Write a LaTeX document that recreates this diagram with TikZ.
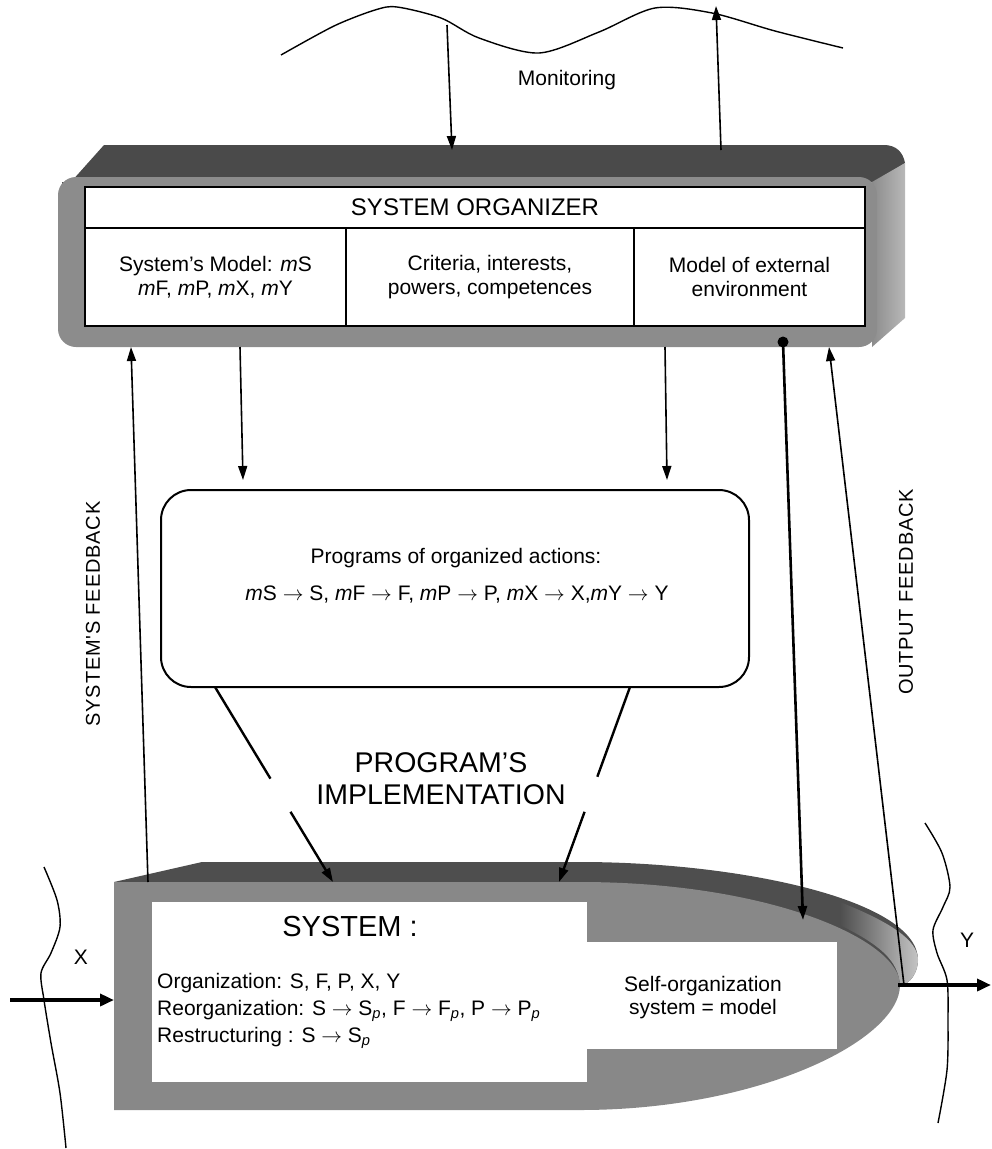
\documentclass[tikz,border=0pt]{standalone}
\usepackage{fontspec}
\setmainfont{Liberation Sans}
\newfontfamily\spacedfont[LetterSpace=4]{Liberation Sans}
\usetikzlibrary{arrows.meta,calc}
\definecolor{orgtop}{HTML}{4A4A4A}
\definecolor{orgfront}{HTML}{8C8C8C}
\definecolor{orgside}{HTML}{B8B8B8}
\definecolor{bodytop}{HTML}{4E4E4E}
\definecolor{bodyfront}{HTML}{888888}
\definecolor{rimlight}{HTML}{C4C4C4}
\newcommand{\sra}{$\rightarrow$}
\newcommand{\subp}{\textsubscript{\textit{p}}}
\begin{document}
\begin{tikzpicture}[x=1pt,y=-1pt,
  txt/.style={inner sep=0pt, font=\fontsize{21}{24}\selectfont},
  cell/.style={draw, line width=2pt, fill=white, inner sep=0pt, align=center, font=\fontsize{21}{24}\selectfont},
  whitebox/.style={fill=white, inner sep=0pt, anchor=north west},
  conn/.style={line width=1.6pt},
  thickconn/.style={line width=2.4pt},
  tip/.style={-{Triangle[length=14pt,width=9pt]}},
  vlabel/.style={rotate=90, inner sep=0pt, font=\spacedfont\fontsize{20}{24}\selectfont}
]
\useasboundingbox (0,0) rectangle (992,1149);

% ---------------- top wave and monitoring ----------------
\draw[line width=1.4pt] plot[smooth] coordinates {(281,55) (334,26) (375,10) (397,7) (441,18) (479,38) (539,53) (599,32) (655,8) (712,13) (775,31) (843,48)};
\node[txt] (mon) at (567,80) {Monitoring};

% ---------------- system organizer (3D box) ----------------
\fill[orgtop] (62,192) -- (104,145) -- (884,145) .. controls (896,145) and (903,152) .. (905,163) -- (877,182) -- (62,182) -- cycle;
\shade[left color=orgfront, right color=orgside] (872,182) -- (905,163) -- (905,318) -- (872,347) -- cycle;
\fill[orgfront, rounded corners=18pt] (58,177) rectangle (877,347);

\node[cell, minimum width=780pt, minimum height=41pt, font=\fontsize{24}{28}\selectfont] (hdr) at (475,207.5) {SYSTEM ORGANIZER};
\node[cell, minimum width=261pt, minimum height=98pt] (c1) at (215.5,277) {System's Model: \textit{m}S\\\textit{m}F, \textit{m}P, \textit{m}X, \textit{m}Y};
\node[cell, minimum width=288pt, minimum height=98pt] (c2) at (490,277) {Criteria, interests,\\powers, competences};
\node[cell, minimum width=231pt, minimum height=98pt] (c3) at (749.5,277) {Model of external\\environment};

% ---------------- system body (3D shape) ----------------
\fill[bodytop] (114,882) -- (202,862) -- (580,862) .. controls (740,862) and (918,900) .. (918,960) .. controls (918,972) and (910,985) .. (900,985) -- (114,985) -- cycle;
\shade[left color=bodytop, right color=rimlight] (840,902) .. controls (890,922) and (918,940) .. (918,960) .. controls (918,972) and (910,985) .. (900,985) .. controls (898,960) and (880,945) .. (840,925) -- cycle;
\fill[bodyfront] (114,882) -- (580,882) .. controls (770,882) and (900,940) .. (900,985) .. controls (900,1040) and (760,1110) .. (580,1110) -- (114,1110) -- cycle;

\node[whitebox, minimum width=435pt, minimum height=180pt] (sysbox) at (152,902) {};
\node[whitebox, minimum width=252pt, minimum height=107pt] (selfbox) at (585,942) {};

\node[inner sep=0pt, font=\fontsize{29}{33}\selectfont] (systitle) at (350,927) {SYSTEM :};
\node[txt, anchor=base west] (org1) at (157,988) {Organization: S, F, P, X, Y};
\node[txt, anchor=base west] (org2) at (157,1015) {Reorganization: S \sra{} S\subp, F \sra{} F\subp, P \sra{} P\subp};
\node[txt, anchor=base west] (org3) at (157,1042) {Restructuring : S \sra{} S\subp};
\node[txt, align=center, font=\fontsize{21}{23}\selectfont] (selft) at (703,998) {Self-organization\\system = model};

% ---------------- program box ----------------
\node[draw, line width=2pt, rounded corners=30pt, minimum width=588pt, minimum height=197pt, inner sep=0pt] (prog) at (455,588.5) {};
\node[txt] (prog1) at (456,558) {Programs of organized actions:};
\node[txt] (prog2) at (457,595) {\textit{m}S \sra{} S, \textit{m}F \sra{} F, \textit{m}P \sra{} P, \textit{m}X \sra{} X,\textit{m}Y \sra{} Y};

\node[align=center, inner sep=0pt, font=\fontsize{28.5}{32}\selectfont] (impl) at (441,779) {PROGRAM'S\\IMPLEMENTATION};

% ---------------- labels ----------------
\node[vlabel] (sfb) at (93,614) {SYSTEM'S FEEDBACK};
\node[vlabel] (ofb) at (906,592) {OUTPUT FEEDBACK};
\node[txt] (xlab) at (81,957) {X};
\node[txt] (ylab) at (967,940) {Y};

% ---------------- coordinates ----------------
\coordinate (w1) at (447,25);
\coordinate (oT1) at (452,150);
\coordinate (oT2) at (721,150);
\coordinate (w2) at (716,6);
\coordinate (oB1) at (131,347);
\coordinate (oB2) at (240,347);
\coordinate (oB3) at (665,347);
\coordinate (oB4) at (783,342);
\coordinate (oB5) at (829,347);
\coordinate (pT1) at (243,480);
\coordinate (pT2) at (667,480);
\coordinate (pB1) at (215,687);
\coordinate (pB2) at (630,687);
\coordinate (sT0) at (148,882);
\coordinate (sT1) at (333,882);
\coordinate (sT2) at (559,882);
\coordinate (sM) at (803,920);
\coordinate (ytap) at (904,985);
\coordinate (btip) at (898,985);
\coordinate (yend) at (991,985);
\coordinate (xstart) at (10,1000);
\coordinate (bodyL) at (114,1000);

% ---------------- connectors ----------------
\draw[conn, tip] (w1) -- (oT1);
\draw[conn, tip] (oT2) -- (w2);
\draw[conn, tip] (oB2) -- (pT1);
\draw[conn, tip] (oB3) -- (pT2);
\draw[conn, tip] (sT0) -- (oB1);
\draw[thickconn] (pB1) -- ($(pB1)!0.47!(sT1)$);
\draw[thickconn, tip] ($(pB1)!0.64!(sT1)$) -- (sT1);
\draw[thickconn] (pB2) -- ($(pB2)!0.46!(sT2)$);
\draw[thickconn, tip] ($(pB2)!0.64!(sT2)$) -- (sT2);
\fill (oB4) circle (5.5);
\draw[line width=2.6pt, tip] (oB4) -- (sM);
\draw[conn, tip] (ytap) -- (oB5);
\draw[line width=3.5pt, -{Triangle[length=14pt,width=12pt]}] (btip) -- (yend);
\draw[line width=3.5pt, -{Triangle[length=14pt,width=12pt]}] (xstart) -- (bodyL);

% ---------------- side waves ----------------
\draw[line width=1.4pt] plot[smooth] coordinates {(44,867) (57,900) (60,927) (51,953) (41,973) (44,1000) (51,1043) (60,1093) (66,1148)};
\draw[line width=1.4pt] plot[smooth] coordinates {(925,823) (942,853) (950,887) (943,907) (933,930) (937,953) (947,980) (948,1020) (947,1070) (938,1123)};
\end{tikzpicture}
\end{document}
